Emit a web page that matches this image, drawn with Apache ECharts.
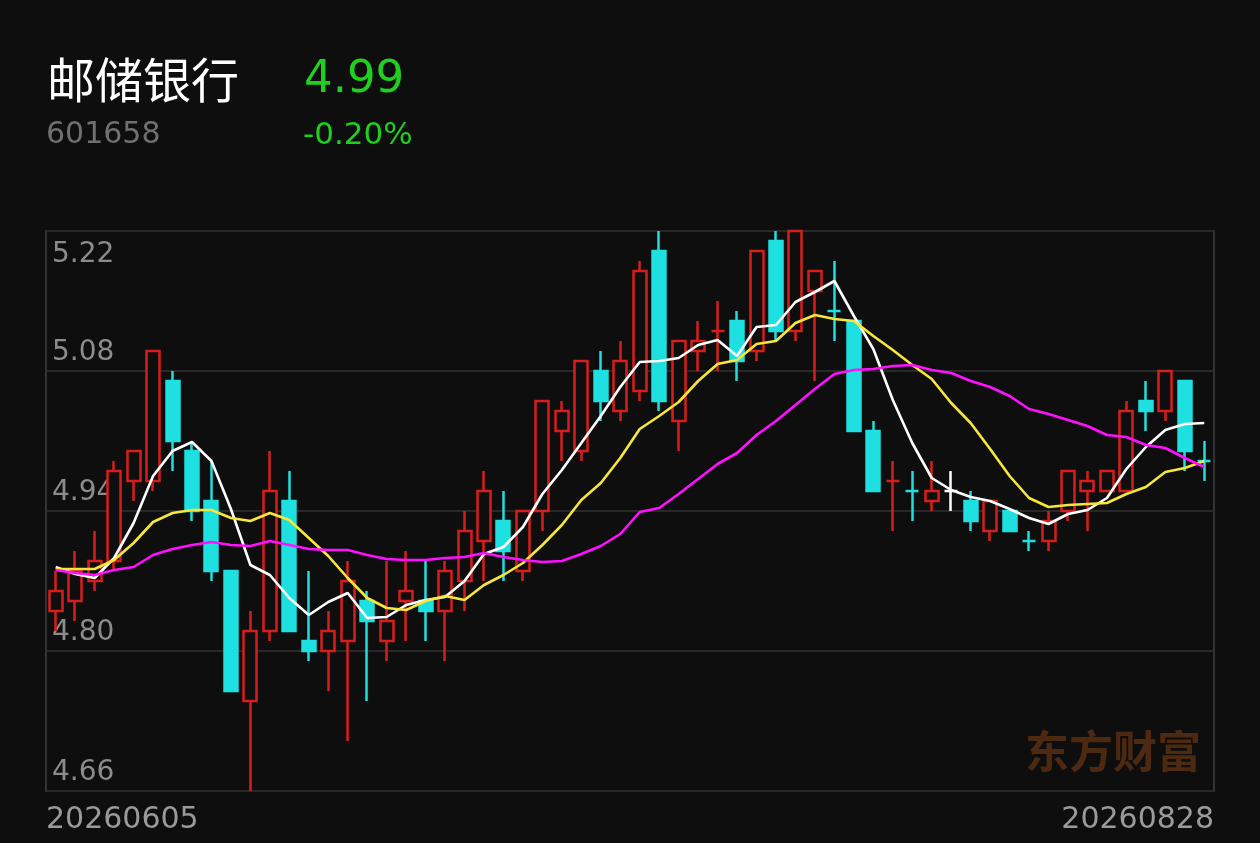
<!DOCTYPE html>
<html>
<head>
<meta charset="utf-8">
<style>
html,body{margin:0;padding:0;background:#0e0e0e;}
#chart{width:1260px;height:843px;}
</style>
<script src="https://cdn.jsdelivr.net/npm/echarts@6/dist/echarts.min.js"></script>
</head>
<body>
<div id="chart"></div>
<script>
const stockName = '邮储银行';
const stockCode = '601658';
const lastPrice = '4.99';
const changePct = '-0.20%';
const watermark = '东方财富';

const dates = ['20260605','20260608','20260609','20260610','20260611','20260612','20260615','20260616','20260617','20260618',
'20260622','20260623','20260624','20260625','20260626','20260629','20260630','20260701','20260702','20260703',
'20260706','20260707','20260708','20260709','20260710','20260713','20260714','20260715','20260716','20260717',
'20260720','20260721','20260722','20260723','20260724','20260727','20260728','20260729','20260730','20260731',
'20260803','20260804','20260805','20260806','20260807','20260810','20260811','20260812','20260813','20260814',
'20260817','20260818','20260819','20260820','20260821','20260824','20260825','20260826','20260827','20260828'];

const opens  = [4.84,4.85,4.87,4.89,4.97,4.97,5.07,5.00,4.95,4.88, 4.75,4.82,4.95,4.81,4.80,4.81,4.85,4.81,4.85,4.85,
                4.84,4.87,4.91,4.93,4.88,4.94,5.02,5.00,5.08,5.04, 5.06,5.20,5.03,5.10,5.12,5.13,5.10,5.21,5.12,5.16,
                5.14,5.13,5.02,4.97,4.96,4.95,4.96,4.95,4.92,4.94, 4.91,4.91,4.94,4.96,4.96,4.96,5.05,5.04,5.07,4.99];
const closes = [4.86,4.88,4.89,4.98,5.00,5.10,5.01,4.94,4.88,4.76, 4.82,4.96,4.82,4.80,4.82,4.87,4.83,4.83,4.86,4.84,
                4.88,4.92,4.96,4.90,4.94,5.05,5.04,5.09,5.05,5.09, 5.18,5.05,5.11,5.11,5.12,5.09,5.20,5.12,5.22,5.18,
                5.14,5.02,4.96,4.97,4.96,4.96,4.96,4.93,4.95,4.92, 4.91,4.93,4.98,4.97,4.98,5.04,5.04,5.08,5.00,4.99];
const lows   = [4.82,4.83,4.86,4.88,4.95,4.96,4.98,4.93,4.87,4.76, 4.66,4.81,4.82,4.79,4.76,4.71,4.75,4.79,4.81,4.81,
                4.79,4.84,4.87,4.87,4.87,4.92,4.99,4.99,5.03,5.03, 5.05,5.04,5.00,5.08,5.08,5.07,5.09,5.11,5.11,5.07,
                5.11,5.02,4.96,4.92,4.93,4.94,4.94,4.92,4.91,4.92, 4.90,4.90,4.93,4.92,4.96,4.96,5.02,5.03,4.98,4.97];
const highs  = [4.88,4.90,4.92,4.99,5.00,5.10,5.08,5.01,4.99,4.88, 4.84,5.00,4.98,4.88,4.84,4.89,4.86,4.89,4.90,4.89,
                4.89,4.94,4.98,4.96,4.94,5.05,5.05,5.09,5.10,5.11, 5.19,5.22,5.11,5.13,5.15,5.14,5.20,5.22,5.22,5.18,
                5.19,5.13,5.03,4.99,4.98,4.99,4.98,4.96,4.95,4.94, 4.92,4.94,4.98,4.98,4.98,5.05,5.07,5.08,5.07,5.01];

const ma5  = [4.884,4.877,4.873,4.893,4.928,4.975,5.000,5.009,4.990,4.942, 4.886,4.876,4.853,4.836,4.849,4.858,4.833,4.834,4.846,4.851,
              4.854,4.870,4.897,4.904,4.924,4.957,4.981,5.008,5.035,5.064, 5.089,5.090,5.093,5.106,5.111,5.095,5.124,5.126,5.149,5.159,
              5.170,5.135,5.102,5.051,5.008,4.973,4.961,4.954,4.950,4.942, 4.933,4.927,4.937,4.941,4.953,4.982,5.004,5.021,5.027,5.028];
const ma10 = [4.882,4.882,4.882,4.891,4.908,4.929,4.938,4.941,4.941,4.933, 4.930,4.938,4.931,4.913,4.895,4.873,4.853,4.843,4.841,4.850,
              4.855,4.851,4.866,4.876,4.888,4.906,4.926,4.951,4.968,4.993, 5.022,5.035,5.049,5.070,5.087,5.091,5.107,5.110,5.128,5.136,
              5.132,5.130,5.115,5.101,5.086,5.072,5.048,5.028,5.002,4.975, 4.953,4.944,4.946,4.947,4.948,4.957,4.964,4.979,4.983,4.990];
const ma20 = [4.881,4.878,4.876,4.881,4.884,4.896,4.902,4.906,4.909,4.906, 4.905,4.910,4.906,4.902,4.901,4.901,4.896,4.892,4.891,4.891,
              4.893,4.894,4.898,4.894,4.891,4.889,4.890,4.897,4.905,4.917, 4.939,4.943,4.957,4.972,4.987,4.998,5.016,5.030,5.046,5.062,
              5.077,5.081,5.082,5.085,5.086,5.081,5.078,5.070,5.064,5.055, 5.042,5.037,5.031,5.025,5.016,5.014,5.006,5.003,4.993,4.984];

const yTickLabels = ['4.66','4.80','4.94','5.08','5.22'];
const yMin = 4.66, yMax = 5.22;

const UP = '#d81e1b', DOWN = '#1ee0e0', FLAT = '#ffffff', BG = '#0e0e0e';

const candleData = dates.map((d, i) => {
  const item = { value: [opens[i], closes[i], lows[i], highs[i]] };
  if (opens[i] === closes[i]) {
    const prev = i > 0 ? closes[i - 1] : closes[i];
    const col = closes[i] > prev ? UP : (closes[i] < prev ? DOWN : FLAT);
    item.itemStyle = { color: col, color0: col, borderColor: col, borderColor0: col, borderColorDoji: col };
  }
  return item;
});

const chart = echarts.init(document.getElementById('chart'), null, { renderer: 'canvas' });
const numFont = 'DejaVu Sans';
chart.setOption({
  backgroundColor: BG,
  animation: false,
  grid: { left: 46, right: 46, top: 231, bottom: 52, show: true, borderColor: '#343434', borderWidth: 2, backgroundColor: 'transparent' },
  xAxis: {
    type: 'category', data: dates, boundaryGap: true,
    axisLine: { show: false }, axisTick: { show: false }, axisLabel: { show: false }, splitLine: { show: false }
  },
  yAxis: [
    { type: 'value', min: yMin, max: yMax, show: false, splitLine: { show: false } },
    {
      type: 'value', min: 0, max: yTickLabels.length - 1, interval: 1, position: 'left',
      axisLine: { show: false }, axisTick: { show: false },
      splitLine: { show: true, lineStyle: { color: '#282828', width: 2 } },
      axisLabel: {
        inside: true, margin: 6, color: '#8c8c8c', fontSize: 28, fontFamily: numFont,
        verticalAlign: 'bottom', verticalAlignMaxLabel: 'top', padding: [10, 0, 4, 0],
        formatter: v => yTickLabels[v]
      }
    }
  ],
  series: [
    {
      type: 'candlestick', yAxisIndex: 0, data: candleData, barWidth: 13.5,
      itemStyle: { color: BG, color0: DOWN, borderColor: UP, borderColor0: DOWN, borderWidth: 2.5 }
    },
    { type: 'line', yAxisIndex: 0, data: ma5, symbol: 'none', lineStyle: { color: '#ffffff', width: 2.6 }, z: 5 },
    { type: 'line', yAxisIndex: 0, data: ma10, symbol: 'none', lineStyle: { color: '#f7e73a', width: 2.6 }, z: 5 },
    { type: 'line', yAxisIndex: 0, data: ma20, symbol: 'none', lineStyle: { color: '#ff10ff', width: 2.6 }, z: 5 }
  ],
  graphic: [
    { type: 'text', left: 47, top: 56, style: { text: stockName, fill: '#ffffff', font: '48px "Noto Sans CJK SC"' } },
    { type: 'text', left: 46, top: 120, style: { text: stockCode, fill: '#707070', font: '30px "DejaVu Sans"' } },
    { type: 'text', left: 304, top: 58, style: { text: lastPrice, fill: '#1fd01f', font: '45px "DejaVu Sans"' } },
    { type: 'text', left: 303, top: 120, style: { text: changePct, fill: '#1fd01f', font: '31px "DejaVu Sans"' } },
    { type: 'text', left: 46, top: 805, style: { text: dates[0], fill: '#9a9a9a', font: '30px "DejaVu Sans"' } },
    { type: 'text', right: 46, top: 805, style: { text: dates[dates.length - 1], fill: '#9a9a9a', font: '30px "DejaVu Sans"' } },
    { type: 'text', right: 59, top: 729, z: -1, style: { text: watermark, fill: '#4e2912', font: 'bold 44px "Noto Sans CJK SC"' } }
  ]
});
</script>
</body>
</html>
